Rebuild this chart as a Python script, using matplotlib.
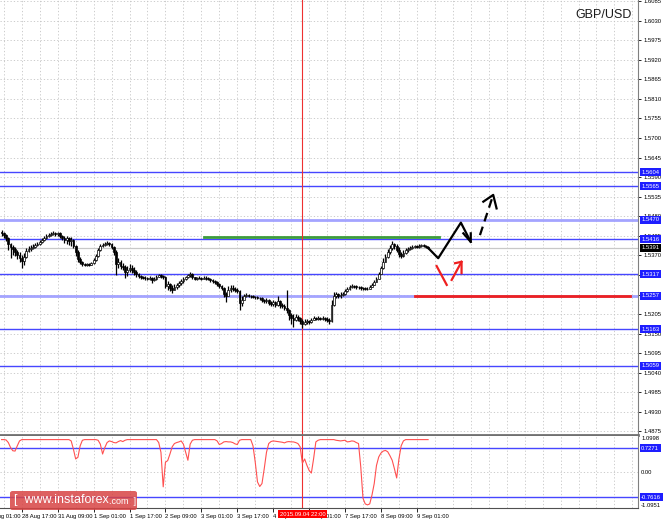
import numpy as np
import matplotlib.pyplot as plt
from matplotlib.patches import FancyBboxPatch

plt.rcParams['font.family'] = ['Liberation Sans', 'DejaVu Sans']

# hourly bars, bar 0 = 28 Aug 08:00
first_open = 1.5436
closes = [
    1.5433, 1.5427, 1.5419, 1.5402, 1.5394, 1.5388, 1.5379, 1.5371, 1.5363, 1.5354,
    1.5365, 1.5382, 1.5388, 1.5391, 1.5394, 1.5399, 1.5402, 1.5408, 1.5413, 1.5419,
    1.5424, 1.5427, 1.5430, 1.5433, 1.5430, 1.5433, 1.5424, 1.5419, 1.5413, 1.5419,
    1.5410, 1.5413, 1.5396, 1.5379, 1.5360, 1.5351, 1.5346, 1.5343, 1.5346, 1.5343,
    1.5349, 1.5357, 1.5368, 1.5385, 1.5396, 1.5399, 1.5402, 1.5405, 1.5402, 1.5394,
    1.5379, 1.5346, 1.5351, 1.5340, 1.5337, 1.5323, 1.5329, 1.5335, 1.5329, 1.5323,
    1.5318, 1.5312, 1.5309, 1.5306, 1.5306, 1.5304, 1.5306, 1.5301, 1.5304, 1.5309,
    1.5315, 1.5312, 1.5309, 1.5284, 1.5290, 1.5278, 1.5273, 1.5281, 1.5287, 1.5292,
    1.5298, 1.5304, 1.5309, 1.5315, 1.5318, 1.5309, 1.5304, 1.5306, 1.5306, 1.5304,
    1.5306, 1.5306, 1.5304, 1.5301, 1.5298, 1.5295, 1.5290, 1.5284, 1.5278, 1.5261,
    1.5256, 1.5273, 1.5278, 1.5275, 1.5273, 1.5270, 1.5236, 1.5245, 1.5256, 1.5259,
    1.5256, 1.5256, 1.5253, 1.5253, 1.5250, 1.5250, 1.5245, 1.5242, 1.5245, 1.5236,
    1.5233, 1.5239, 1.5231, 1.5242, 1.5231, 1.5228, 1.5222, 1.5216, 1.5202, 1.5194,
    1.5188, 1.5197, 1.5194, 1.5186, 1.5177, 1.5183, 1.5186, 1.5183, 1.5188, 1.5194,
    1.5191, 1.5194, 1.5191, 1.5194, 1.5191, 1.5188, 1.5186, 1.5231, 1.5256, 1.5261,
    1.5256, 1.5259, 1.5261, 1.5270, 1.5275, 1.5281, 1.5284, 1.5284, 1.5281, 1.5281,
    1.5278, 1.5278, 1.5275, 1.5275, 1.5281, 1.5287, 1.5295, 1.5304, 1.5318, 1.5335,
    1.5351, 1.5365, 1.5379, 1.5391, 1.5402, 1.5396, 1.5385, 1.5374, 1.5368, 1.5377,
    1.5385, 1.5388, 1.5391, 1.5394, 1.5396, 1.5394, 1.5396, 1.5399, 1.5396, 1.5394,
    1.5391]
highs = [
    1.5441, 1.5436, 1.5430, 1.5422, 1.5405, 1.5399, 1.5394, 1.5385, 1.5379, 1.5371,
    1.5377, 1.5391, 1.5396, 1.5399, 1.5402, 1.5405, 1.5408, 1.5413, 1.5419, 1.5424,
    1.5430, 1.5433, 1.5436, 1.5438, 1.5436, 1.5436, 1.5436, 1.5427, 1.5424, 1.5424,
    1.5422, 1.5422, 1.5416, 1.5399, 1.5385, 1.5365, 1.5354, 1.5349, 1.5349, 1.5349,
    1.5351, 1.5363, 1.5374, 1.5391, 1.5402, 1.5405, 1.5408, 1.5410, 1.5408, 1.5405,
    1.5396, 1.5385, 1.5363, 1.5357, 1.5349, 1.5343, 1.5340, 1.5346, 1.5343, 1.5337,
    1.5329, 1.5320, 1.5315, 1.5312, 1.5312, 1.5309, 1.5312, 1.5309, 1.5309, 1.5315,
    1.5318, 1.5318, 1.5315, 1.5312, 1.5298, 1.5292, 1.5287, 1.5290, 1.5292, 1.5298,
    1.5304, 1.5309, 1.5312, 1.5318, 1.5323, 1.5320, 1.5309, 1.5309, 1.5312, 1.5309,
    1.5312, 1.5312, 1.5309, 1.5306, 1.5304, 1.5301, 1.5298, 1.5292, 1.5287, 1.5281,
    1.5267, 1.5284, 1.5287, 1.5287, 1.5281, 1.5278, 1.5273, 1.5256, 1.5261, 1.5264,
    1.5261, 1.5259, 1.5259, 1.5256, 1.5256, 1.5253, 1.5253, 1.5247, 1.5250, 1.5247,
    1.5242, 1.5245, 1.5242, 1.5256, 1.5245, 1.5236, 1.5233, 1.5273, 1.5219, 1.5208,
    1.5205, 1.5205, 1.5202, 1.5197, 1.5191, 1.5191, 1.5191, 1.5188, 1.5194, 1.5200,
    1.5197, 1.5200, 1.5197, 1.5200, 1.5197, 1.5197, 1.5194, 1.5245, 1.5267, 1.5267,
    1.5264, 1.5267, 1.5267, 1.5275, 1.5281, 1.5287, 1.5290, 1.5287, 1.5287, 1.5284,
    1.5284, 1.5281, 1.5281, 1.5281, 1.5287, 1.5292, 1.5301, 1.5309, 1.5323, 1.5340,
    1.5363, 1.5374, 1.5388, 1.5399, 1.5410, 1.5405, 1.5402, 1.5394, 1.5379, 1.5385,
    1.5391, 1.5394, 1.5396, 1.5399, 1.5399, 1.5399, 1.5402, 1.5402, 1.5402, 1.5399,
    1.5396]
lows = [
    1.5424, 1.5419, 1.5410, 1.5385, 1.5363, 1.5371, 1.5368, 1.5360, 1.5351, 1.5335,
    1.5343, 1.5363, 1.5379, 1.5382, 1.5388, 1.5391, 1.5396, 1.5399, 1.5405, 1.5410,
    1.5416, 1.5422, 1.5424, 1.5427, 1.5424, 1.5424, 1.5419, 1.5413, 1.5405, 1.5402,
    1.5399, 1.5396, 1.5391, 1.5368, 1.5351, 1.5346, 1.5340, 1.5340, 1.5340, 1.5340,
    1.5343, 1.5346, 1.5354, 1.5365, 1.5382, 1.5394, 1.5396, 1.5399, 1.5396, 1.5388,
    1.5371, 1.5315, 1.5335, 1.5332, 1.5329, 1.5306, 1.5312, 1.5323, 1.5320, 1.5315,
    1.5309, 1.5306, 1.5304, 1.5304, 1.5301, 1.5301, 1.5301, 1.5292, 1.5298, 1.5301,
    1.5309, 1.5306, 1.5304, 1.5278, 1.5273, 1.5270, 1.5264, 1.5273, 1.5275, 1.5281,
    1.5287, 1.5292, 1.5301, 1.5306, 1.5309, 1.5304, 1.5301, 1.5301, 1.5304, 1.5301,
    1.5304, 1.5301, 1.5301, 1.5295, 1.5292, 1.5290, 1.5284, 1.5278, 1.5273, 1.5253,
    1.5239, 1.5259, 1.5267, 1.5270, 1.5267, 1.5264, 1.5216, 1.5228, 1.5247, 1.5253,
    1.5253, 1.5250, 1.5250, 1.5247, 1.5247, 1.5245, 1.5239, 1.5236, 1.5236, 1.5231,
    1.5228, 1.5228, 1.5225, 1.5228, 1.5222, 1.5222, 1.5216, 1.5208, 1.5188, 1.5177,
    1.5169, 1.5186, 1.5186, 1.5177, 1.5166, 1.5174, 1.5177, 1.5177, 1.5180, 1.5188,
    1.5188, 1.5188, 1.5188, 1.5188, 1.5186, 1.5183, 1.5177, 1.5183, 1.5228, 1.5250,
    1.5250, 1.5250, 1.5256, 1.5259, 1.5267, 1.5273, 1.5278, 1.5278, 1.5275, 1.5275,
    1.5273, 1.5273, 1.5273, 1.5273, 1.5275, 1.5281, 1.5287, 1.5295, 1.5304, 1.5318,
    1.5332, 1.5351, 1.5363, 1.5374, 1.5385, 1.5388, 1.5379, 1.5365, 1.5363, 1.5365,
    1.5374, 1.5379, 1.5385, 1.5388, 1.5391, 1.5391, 1.5391, 1.5394, 1.5394, 1.5391,
    1.5388]

# oscillator in the lower window
osc = [
    0.99, 0.99, 0.98, 0.90, 0.75, 0.65, 0.64, 0.80, 0.95, 0.99,
    0.99, 0.99, 0.99, 0.99, 0.99, 0.99, 0.99, 0.99, 0.99, 0.99,
    0.99, 0.99, 0.99, 0.99, 0.99, 0.99, 0.99, 0.99, 0.99, 0.99,
    0.99, 0.95, 0.70, 0.40, 0.45, 0.80, 0.97, 0.99, 0.99, 0.99,
    0.99, 0.99, 0.99, 0.97, 0.85, 0.55, 0.75, 0.90, 0.95, 0.93,
    0.90, 0.89, 0.93, 0.96, 0.93, 0.97, 0.99, 0.99, 0.99, 0.99,
    0.99, 0.99, 0.99, 0.99, 0.99, 0.99, 0.99, 0.99, 0.99, 0.99,
    0.90, 0.60, -0.45, 0.30, 0.35, 0.55, 0.77, 0.87, 0.90, 0.92,
    0.95, 0.85, 0.60, 0.36, 0.85, 0.97, 0.99, 0.99, 0.99, 0.99,
    0.99, 0.99, 0.99, 0.99, 0.99, 0.99, 0.95, 0.84, 0.87, 0.92,
    0.93, 0.92, 0.92, 0.90, 0.86, 0.84, 0.97, 0.99, 0.99, 0.99,
    0.99, 0.99, 0.80, 0.30, -0.30, -0.44, -0.35, 0.10, 0.60, 0.87,
    0.93, 0.95, 0.94, 0.93, 0.92, 0.91, 0.89, 0.92, 0.93, 0.92,
    0.92, 0.90, 0.87, 0.77, 0.27, 0.40, 0.21, 0.05, -0.03, 0.41,
    0.92, 0.97, 0.99, 0.99, 0.99, 0.99, 0.99, 0.99, 0.99, 0.97,
    0.96, 0.95, 0.96, 0.97, 0.92, 0.93, 0.95, 0.94, 0.90, 0.87,
    0.16, -0.80, -0.97, -1.00, -0.97, -0.70, -0.35, 0.20, 0.46, 0.58,
    0.64, 0.66, 0.62, 0.50, 0.36, 0.10, -0.18, 0.40, 0.80, 0.95,
    0.99, 0.99, 0.99, 0.99, 0.99, 0.99, 0.99, 0.99, 0.99, 0.99,
    0.99]

time_ticks = [-7, 9, 25, 41, 57, 73, 89, 105, 121, 137, 153, 169, 185]
time_labels = ['28 Aug 01:00', '28 Aug 17:00', '31 Aug 09:00', '1 Sep 01:00',
               '1 Sep 17:00', '2 Sep 09:00', '3 Sep 01:00', '3 Sep 17:00',
               '4 Sep 09:00', '7 Sep 01:00', '7 Sep 17:00', '8 Sep 09:00',
               '9 Sep 01:00']
price_ticks = [1.4875, 1.4930, 1.4985, 1.5040, 1.5095, 1.5150, 1.5205, 1.5260,
               1.5315, 1.5370, 1.5425, 1.5480, 1.5535, 1.5590, 1.5645, 1.5700,
               1.5755, 1.5810, 1.5865, 1.5920, 1.5975, 1.6030, 1.6085]

levels = [1.5604, 1.5565, 1.5470, 1.5416, 1.5317, 1.5257, 1.5163, 1.5059]
soft_levels = [1.5470, 1.5257]   # drawn as wider pale lines
last_price = 1.5391
osc_levels = [0.7271, -0.7616]
osc_range = (-1.0951, 1.0998)

green_level, green_from, green_to = 1.5421, 90, 195
red_level, red_from, red_to = 1.5257, 184, 280
cross_bar, cross_label = 134, '2015.09.04 22:00'

# hand-drawn forecast arrows (bar position, price)
up_path_x = [190, 194.5, 204.6, 209.0]
up_path_y = [1.5391, 1.5362, 1.5462, 1.5408]
up_head_x = [205.7, 209.0, 209.0]
up_head_y = [1.5432, 1.5408, 1.5432]
dash_x = [213.1, 219.0]
dash_y = [1.5427, 1.5540]
dash_head_x = [214.6, 219.0, 220.5]
dash_head_y = [1.5521, 1.5540, 1.5502]
red1_x = [193.8, 198.3]
red1_y = [1.5340, 1.5287]
red2_x = [200.5, 204.9]
red2_y = [1.5301, 1.5352]
red2_head_x = [202.0, 204.9, 204.9]
red2_head_y = [1.5348, 1.5352, 1.5320]

W, H = 664, 520
fig = plt.figure(figsize=(W / 100, H / 100), dpi=100)
ax = fig.add_axes([0, 1 - 435 / H, 638 / W, 435 / H])
ax2 = fig.add_axes([0, 12 / H, 638 / W, 72 / H])
xlim = (-0.7, 283.5)

blue = '#4646ff'
pale_blue = '#a4a4ff'
grid_kw = dict(color='#c4c4c4', lw=0.6, ls=(0, (1.5, 2.5)))
vgrid = np.arange(-7, 290, 8)

# ---- main window
ax.set_xlim(*xlim)
ax.set_ylim(1.4865, 1.6088)
for p in price_ticks:
    ax.axhline(p, zorder=0, **grid_kw)
for v in vgrid:
    ax.axvline(v, zorder=0, **grid_kw)
    ax2.axvline(v, zorder=0, **grid_kw)

ax.axhline(last_price, color='#c8c8c8', lw=0.9, zorder=1)
for lv in levels:
    if lv in soft_levels:
        ax.axhline(lv, color=pale_blue, lw=2.0, zorder=1)
    else:
        ax.axhline(lv, color=blue, lw=1.0, zorder=1)

opens = [first_open] + closes[:-1]
idx = np.arange(len(closes))
ax.vlines(idx, lows, highs, color='black', lw=0.9, zorder=3)
for i, (o, c) in enumerate(zip(opens, closes)):
    bottom = min(o, c)
    h = max(abs(c - o), 0.00006)
    ax.bar(i, h, bottom=bottom, width=0.8, color='white' if c > o else 'black',
           edgecolor='black', lw=0.5, zorder=4)

ax.plot([green_from, green_to], [green_level] * 2, color='#3c9c3c', lw=2, zorder=2)
ax.plot([red_from, red_to], [red_level] * 2, color='#ee2020', lw=2, zorder=2)
ax.axvline(cross_bar, color='#ee3030', lw=0.8, zorder=2)
ax2.axvline(cross_bar, color='#ee3030', lw=0.8, zorder=2)

ax.plot(up_path_x, up_path_y, color='black', lw=1.6, zorder=5)
ax.plot(up_head_x, up_head_y, color='black', lw=1.6, zorder=5)
ax.plot(dash_x, dash_y, color='black', lw=1.6, ls=(0, (4, 2.5)), zorder=5)
ax.plot(dash_head_x, dash_head_y, color='black', lw=1.6, zorder=5)
ax.plot(red1_x, red1_y, color='#ee2020', lw=1.6, zorder=5)
ax.plot(red2_x, red2_y, color='#ee2020', lw=1.6, zorder=5)
ax.plot(red2_head_x, red2_head_y, color='#ee2020', lw=1.6, zorder=5)

# tick labels hidden behind the level tags are left blank
hidden = {1.5260, 1.5315}
ax.yaxis.tick_right()
ax.set_yticks(price_ticks)
ax.set_yticklabels(['' if p in hidden else '%.4f' % p for p in price_ticks])
ax.tick_params(axis='y', labelsize=4.2, length=2, pad=2, width=0.6)
ax.set_xticks([])
for s in ['top', 'left']:
    ax.spines[s].set_visible(False)
ax.spines['right'].set_color('#808080')
ax.spines['bottom'].set_color('#707070')
ax.spines['bottom'].set_linewidth(2)

ytr = ax.get_yaxis_transform()
for lv in levels:
    ax.text(1.005, lv, '%.4f' % lv, transform=ytr, fontsize=4.2, color='white',
            va='center', ha='left', zorder=10, clip_on=False,
            bbox=dict(boxstyle='square,pad=0.25', fc='#1e1eff', ec='none'))
ax.text(1.005, last_price, '%.4f' % last_price, transform=ytr, fontsize=4.2,
        color='white', va='center', ha='left', zorder=10, clip_on=False,
        bbox=dict(boxstyle='square,pad=0.25', fc='black', ec='none'))

fig.text(632 / W, 1 - 15 / H, 'GBP/USD', ha='right', va='center', fontsize=9,
         color='#1a1a1a')

# ---- oscillator window
ax2.set_xlim(*xlim)
ax2.set_ylim(*osc_range)
ax2.axhline(0, zorder=0, **grid_kw)
for lv in osc_levels:
    ax2.axhline(lv, color=blue, lw=1.0, zorder=1)
ax2.plot(np.arange(len(osc)), osc, color='#ff5050', lw=0.8, zorder=3)
ax2.set_yticks([])
shown = [(t, l) for t, l in zip(time_ticks, time_labels) if t >= xlim[0]]
ax2.set_xticks([t for t, _ in shown])
ax2.set_xticklabels([l for _, l in shown], ha='left')
ax2.tick_params(axis='x', labelsize=4.2, length=3, pad=1, width=0.6)
for t, l in zip(time_ticks, time_labels):
    if t < xlim[0]:
        ax2.annotate(l, xy=(t, 0), xycoords=ax2.get_xaxis_transform(),
                     xytext=(0, -4.2), textcoords='offset points', ha='left',
                     va='top', fontsize=4.2, annotation_clip=False)
ax2.spines['top'].set_visible(False)
ax2.spines['left'].set_visible(False)
ax2.spines['right'].set_color('#808080')
ax2.spines['bottom'].set_color('#505050')

ytr2 = ax2.get_yaxis_transform()
ax2.text(1.005, osc_range[1], '%.4f' % osc_range[1], transform=ytr2,
         fontsize=4.2, va='top', ha='left', clip_on=False)
ax2.text(1.005, 0, '0.00', transform=ytr2, fontsize=4.2, va='center', ha='left',
         clip_on=False)
ax2.text(1.005, osc_range[0], '%.4f' % osc_range[0], transform=ytr2,
         fontsize=4.2, va='bottom', ha='left', clip_on=False)
for lv in osc_levels:
    ax2.text(1.005, lv, '%.4f' % lv, transform=ytr2, fontsize=4.2, color='white',
             va='center', ha='left', zorder=10, clip_on=False,
             bbox=dict(boxstyle='square,pad=0.25', fc='#1e1eff', ec='none'))

# crosshair date tag under the time scale
fig.text((cross_bar * 2.245 + 1.6) / W, 1 - 514 / H, cross_label, ha='center',
         va='center', fontsize=4.2, color='white', zorder=10,
         bbox=dict(boxstyle='square,pad=0.3', fc='#ff0000', ec='none'))

# watermark
fig.add_artist(FancyBboxPatch((10 / W, 1 - 510 / H), 127 / W, 19 / H,
                              boxstyle='round,pad=0,rounding_size=0.004',
                              transform=fig.transFigure, fc='#d84444',
                              ec='none', alpha=0.85, zorder=20))
t1 = fig.text(14 / W, 1 - 500 / H, '[  www.instaforex', fontsize=9,
              color='white', va='center', ha='left', zorder=21)
fig.canvas.draw()
bb = t1.get_window_extent()
fig.text(bb.x1 / W, 1 - 501 / H, '.com  ]', fontsize=6.5, color='white',
         va='center', ha='left', zorder=21)

fig.savefig('out.png', dpi=100)
